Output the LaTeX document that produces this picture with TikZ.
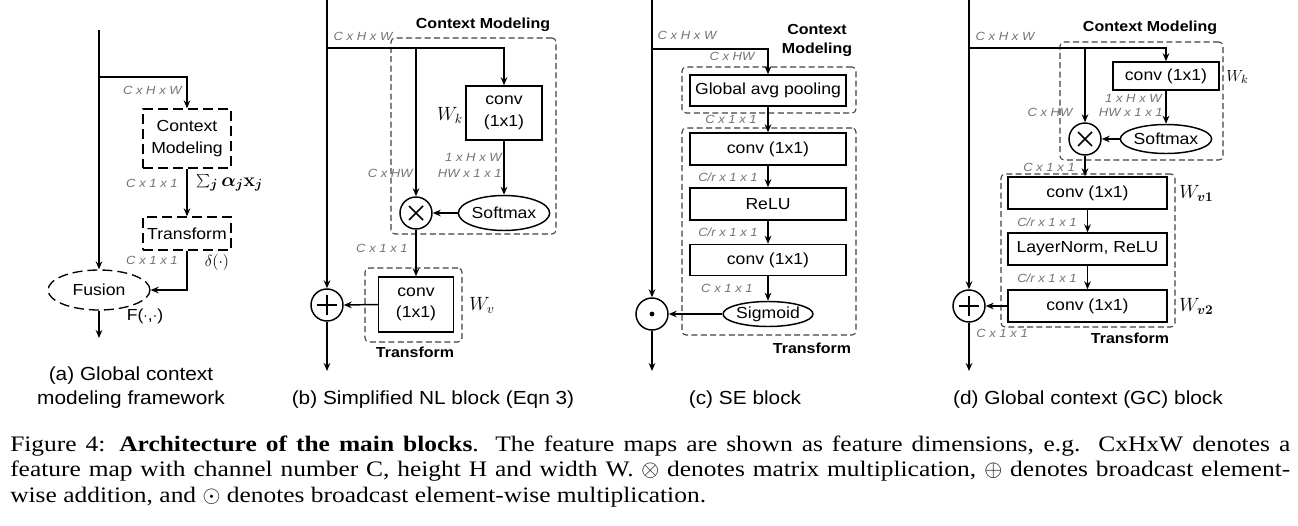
\documentclass[tikz,border=0pt]{standalone}
\usepackage[no-math]{fontspec}
\usepackage{bm}
\setmainfont{Liberation Serif}
\setsansfont{Liberation Sans}[FakeStretch=1.1]
\newfontfamily\capserif{Liberation Serif}[FakeStretch=1.15]
\usetikzlibrary{arrows.meta,shapes.geometric}
\newcommand{\nodefnt}{\sffamily\fontsize{12}{16.2}\selectfont}
\newcommand{\dimfnt}{\sffamily\itshape\fontsize{8.9}{10}\selectfont}
\newcommand{\boldfnt}{\sffamily\bfseries\fontsize{10.9}{14.2}\selectfont}
\newcommand{\subfnt}{\sffamily\fontsize{14.2}{18}\selectfont}
\newcommand{\capfnt}{\capserif\fontsize{16.6}{19.1}\selectfont}
\newcommand{\mfnt}{\fontsize{14}{16}\selectfont}
\begin{document}
\begin{tikzpicture}[x=0.75pt,y=-0.75pt,
  ln/.style={line width=1.1pt},
  ar/.style={ln,-{Stealth[length=6pt,width=5pt,inset=2pt]}},
  sz/.style 2 args={minimum width=#1*0.75pt,minimum height=#2*0.75pt},
  sbox/.style={draw,line width=1.1pt,inner sep=0pt,align=center,font=\nodefnt},
  abox/.style={draw,line width=1pt,dash pattern=on 7.5pt off 3.75pt,inner sep=0pt,align=center,font=\nodefnt},
  gbox/.style={draw=black!75,line width=0.8pt,dash pattern=on 4.5pt off 2.5pt,rounded corners=3pt,inner sep=0pt},
  ell/.style={ellipse,draw,line width=1.1pt,inner sep=0pt,font=\nodefnt},
  op/.style={circle,draw,line width=1.1pt,inner sep=0pt,minimum size=24pt},
  dimlab/.style={text=black!55,font=\dimfnt,inner sep=0pt},
  blab/.style={font=\boldfnt,inner sep=0pt,align=center},
  mlab/.style={font=\mfnt,inner sep=0pt},
  sublab/.style={font=\subfnt,align=center,inner sep=0pt}]
\useasboundingbox (0,0) rectangle (1298,525);

% ---------------- panel (a)
\coordinate (a0) at (99,30);
\coordinate (aj) at (99,77);
\coordinate (aend) at (99,338);
\node[abox,sz={88}{59}] (acm) at (187,138.5) {Context\\Modeling};
\node[abox,sz={88}{33}] (atr) at (187,233.5) {Transform};
\node[ell,line width=1pt,dash pattern=on 7.5pt off 3.75pt,sz={102}{40}] (afu) at (99,290) {Fusion};
\draw[ar] (a0) -- (afu.north);
\draw[ar] (aj) -| (acm.north);
\draw[ar] (acm.south) -- (atr.north);
\draw[ar] (atr.south) |- (afu.east);
\draw[ar] (afu.south) -- (aend);
\node[dimlab,anchor=east] (la1) at (182,90) {C x H x W};
\node[dimlab,anchor=east] (la2) at (178,183) {C x 1 x 1};
\node[dimlab,anchor=east] (la3) at (178,260) {C x 1 x 1};
\node[mlab,anchor=west] (la4) at (196,183) {$\sum_{\bm j}\bm{\alpha_j}\mathbf{x}_{\bm j}$};
\node[mlab,font=\fontsize{12}{14}\selectfont] (la5) at (217,262) {$\delta(\cdot)$};
\node[inner sep=0pt,font=\nodefnt] (la6) at (145,316) {F($\cdot$,$\cdot$)};
\node[sublab] (capa) at (131,388) {(a) Global context\\modeling framework};

% ---------------- panel (b)
\coordinate (b0) at (327,0);
\coordinate (bj) at (327,48);
\coordinate (bm) at (416,48);
\coordinate (bend) at (327,371);
\node[gbox,sz={165}{196}] (bcm) at (473.5,136) {};
\node[gbox,sz={97}{74}] (btr) at (413.5,305) {};
\node[blab] (bcmL) at (483,25) {Context Modeling};
\node[sbox,sz={76}{54}] (bconv) at (504,113) {conv\\(1x1)};
\node[ell,sz={80}{35}] (bsm) at (504,213) {Softmax};
\node[op] (bmul) at (416,213) {};
\node[sbox,sz={75}{55}] (bconv2) at (416,304.5) {conv\\(1x1)};
\node[blab] (btrL) at (415,352) {Transform};
\node[op] (bplus) at (327,305) {};
\draw[ar] (b0) -- (bplus.north);
\draw[ar] (bj) -| (bconv.north);
\draw[ar] (bm) -- (bmul.north);
\draw[ar] (bconv.south) -- (bsm.north);
\draw[ar] (bsm.west) -- (bmul.east);
\draw[ar] (bmul.south) -- (bconv2.north);
\draw[ar] (bconv2.west) -- (bplus.east);
\draw[ar] (bplus.south) -- (bend);
\draw[ln] ([shift={(-7,-7)}]bmul.center) -- ([shift={(7,7)}]bmul.center)
          ([shift={(-7,7)}]bmul.center) -- ([shift={(7,-7)}]bmul.center);
\draw[ln] ([shift={(-10,0)}]bplus.center) -- ([shift={(10,0)}]bplus.center)
          ([shift={(0,-10)}]bplus.center) -- ([shift={(0,10)}]bplus.center);
\node[dimlab] (lb1) at (363,36) {C x H x W};
\node[dimlab,anchor=east] (lb2) at (502,157) {1 x H x W};
\node[dimlab,anchor=east] (lb3) at (502,173) {HW x 1 x 1};
\node[dimlab,anchor=east] (lb4) at (413,173) {C x HW};
\node[dimlab,anchor=east] (lb5) at (408,248) {C x 1 x 1};
\node[mlab] (lb6) at (450,115) {$W_k$};
\node[mlab,anchor=west] (lb7) at (469,305) {$W_v$};
\node[sublab] (capb) at (433,400) {(b) Simplified NL block (Eqn 3)};

% ---------------- panel (c)
\coordinate (c0) at (652,0);
\coordinate (cj) at (652,49);
\coordinate (cend) at (652,371);
\node[gbox,sz={174}{46}] (ccm) at (769,90) {};
\node[gbox,sz={174}{207}] (ctr) at (769,231.5) {};
\node[sbox,sz={156}{31}] (cpool) at (768,90.5) {Global avg pooling};
\node[sbox,sz={156}{32}] (cc1) at (768,149) {conv (1x1)};
\node[sbox,sz={156}{32}] (crelu) at (768,204) {ReLU};
\node[sbox,sz={156}{31}] (cc2) at (768,260) {conv (1x1)};
\node[ell,sz={80}{25}] (csig) at (768,314) {Sigmoid};
\node[op] (cdot) at (652,314) {};
\fill (cdot.center) circle[radius=1.8pt];
\draw[ar] (c0) -- (cdot.north);
\draw[ar] (cj) -| (cpool.north);
\draw[ar] (cpool.south) -- (cc1.north);
\draw[ar] (cc1.south) -- (crelu.north);
\draw[ar] (crelu.south) -- (cc2.north);
\draw[ar] (cc2.south) -- (csig.north);
\draw[ar] (csig.west) -- (cdot.east);
\draw[ar] (cdot.south) -- (cend);
\node[dimlab] (lc1) at (687,35) {C x H x W};
\node[dimlab] (lc2) at (732,56) {C x HW};
\node[dimlab] (lc3) at (731,119) {C x 1 x 1};
\node[dimlab,anchor=east] (lc4) at (758,177) {C/r x 1 x 1};
\node[dimlab,anchor=east] (lc5) at (758,232) {C/r x 1 x 1};
\node[dimlab,anchor=east] (lc6) at (753,288) {C x 1 x 1};
\node[blab] (ccmL) at (817,40) {Context\\Modeling};
\node[blab] (ctrL) at (812,348) {Transform};
\node[sublab] (capc) at (745,400) {(c) SE block};

% ---------------- panel (d)
\coordinate (d0) at (969,0);
\coordinate (dj) at (969,48);
\coordinate (dm) at (1085,48);
\coordinate (dend) at (969,371);
\node[gbox,sz={163}{118}] (dcm) at (1141.5,101) {};
\node[gbox,sz={174}{153}] (dtr) at (1088,250.5) {};
\node[sbox,sz={106}{28}] (dconv) at (1166,76) {conv (1x1)};
\node[ell,sz={80}{29}] (dsm) at (1166,139) {Softmax};
\node[op] (dmul) at (1085,139) {};
\node[sbox,sz={159}{32}] (dc1) at (1087.5,193) {conv (1x1)};
\node[sbox,sz={159}{32}] (dln) at (1087.5,249) {LayerNorm, ReLU};
\node[sbox,sz={159}{32}] (dc2) at (1087.5,306) {conv (1x1)};
\node[op] (dplus) at (969,306) {};
\draw[ar] (d0) -- (dplus.north);
\draw[ar] (dj) -| (dconv.north);
\draw[ar] (dm) -- (dmul.north);
\draw[ar] (dconv.south) -- (dsm.north);
\draw[ar] (dsm.west) -- (dmul.east);
\draw[ar] (dmul.south) -- (dmul.south |- dc1.north);
\draw[ar] (dc1.south) -- (dln.north);
\draw[ar] (dln.south) -- (dc2.north);
\draw[ar] (dc2.west) -- (dplus.east);
\draw[ar] (dplus.south) -- (dend);
\draw[ln] ([shift={(-7,-7)}]dmul.center) -- ([shift={(7,7)}]dmul.center)
          ([shift={(-7,7)}]dmul.center) -- ([shift={(7,-7)}]dmul.center);
\draw[ln] ([shift={(-10,0)}]dplus.center) -- ([shift={(10,0)}]dplus.center)
          ([shift={(0,-10)}]dplus.center) -- ([shift={(0,10)}]dplus.center);
\node[dimlab] (ld1) at (1005,36) {C x H x W};
\node[blab] (dcmL) at (1150,28) {Context Modeling};
\node[dimlab,anchor=east] (ld2) at (1162,98) {1 x H x W};
\node[dimlab,anchor=east] (ld3) at (1163,112) {HW x 1 x 1};
\node[dimlab] (ld4) at (1050,112) {C x HW};
\node[dimlab] (ld5) at (1049,167) {C x 1 x 1};
\node[dimlab,anchor=east] (ld6) at (1077,222) {C/r x 1 x 1};
\node[dimlab,anchor=east] (ld7) at (1077,278) {C/r x 1 x 1};
\node[dimlab] (ld8) at (1002,333) {C x 1 x 1};
\node[blab] (dtrL) at (1130,338) {Transform};
\node[mlab,anchor=west,font=\fontsize{13}{15}\selectfont] (ld9) at (1226,77) {$W_k$};
\node[mlab,anchor=west] (ld10) at (1179,193) {$W_{\bm{v1}}$};
\node[mlab,anchor=west] (ld11) at (1179,306) {$W_{\bm{v2}}$};
\node[sublab] (capd) at (1088,400) {(d) Global context (GC) block};

% ---------------- caption
\node[anchor=north west,inner sep=0pt,text width=960pt,align=justify,font=\capfnt] (cap) at (10,435.5)
 {Figure 4: \textbf{Architecture of the main blocks}. The feature maps are shown as feature dimensions, e.g.\ \ CxHxW denotes a\linebreak
 feature map with channel number C, height H and width W. $\otimes$ denotes matrix multiplication, $\oplus$ denotes broadcast element-\linebreak
 wise addition, and $\odot$ denotes broadcast element-wise multiplication.};
\end{tikzpicture}
\end{document}
